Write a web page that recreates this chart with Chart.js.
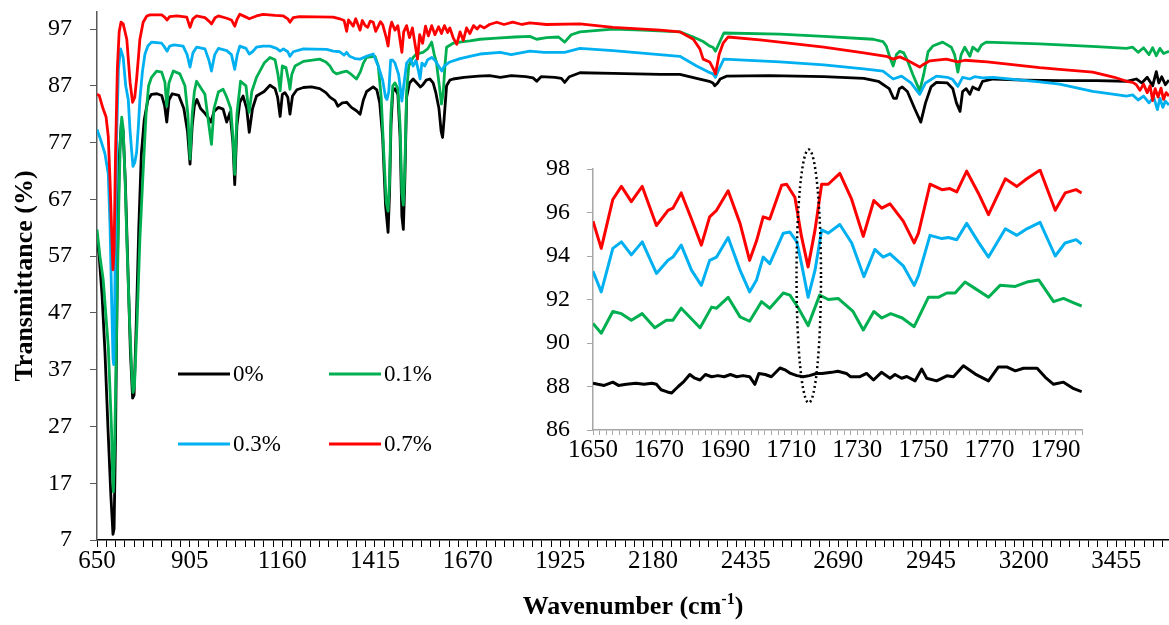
<!DOCTYPE html>
<html>
<head>
<meta charset="utf-8">
<script src="https://cdn.jsdelivr.net/npm/chart.js@4.4.1/dist/chart.umd.min.js"></script>
<style>
  body { margin: 0; background: #fff; }
  #wrap { position: relative; width: 1169px; height: 625px; }
  #mainChart { position: absolute; left: 0; top: 0; }
  #insetChart { position: absolute; left: 520px; top: 140px; }
</style>
</head>
<body>
<div id="wrap">
  <canvas id="mainChart" width="1169" height="625"></canvas>
  <canvas id="insetChart" width="580" height="330"></canvas>
</div>
<script>
// series names (legend)
const seriesNames = ['0%', '0.1%', '0.3%', '0.7%'];

// main spectrum, [wavenumber, transmittance]
const t0 = [[650,60.5],[656,57],[664,50],[672,40],[680,27],[688,15],[694,8],[697,9],[701,25],[706,55],[711,74],[717,80.5],[722,79],[728,70],[735,55],[742,40],[748,32],[752,32.5],[758,45],[765,62],[772,75],[780,81],[790,84.5],[800,85.5],[815,85.6],[828,85.3],[836,83.5],[842,80.6],[848,84.5],[857,85.6],[875,85.3],[889,83],[899,79],[906,73.2],[912,80],[918,83.5],[925,84.6],[935,83],[945,82.3],[955,81.5],[964,80.6],[972,82.5],[984,83.2],[997,82.9],[1007,80.6],[1016,82.3],[1024,77],[1029,69.6],[1035,80],[1043,84.1],[1052,85.2],[1062,83],[1069,78.8],[1078,83],[1089,85.2],[1110,86],[1126,87.1],[1140,86.5],[1147,85],[1154,81.6],[1160,85.5],[1167,85.8],[1175,85],[1181,82],[1188,85.2],[1200,86.3],[1218,86.7],[1240,86.8],[1263,86.5],[1280,85.8],[1291,85],[1305,84.4],[1313,83.4],[1325,84],[1337,84.1],[1350,83.2],[1364,82.6],[1374,82],[1383,84.5],[1392,86],[1410,86.8],[1420,86.3],[1428,84],[1436,78],[1444,66],[1451,61.2],[1455,68],[1459,80],[1464,86],[1470,86.5],[1478,85.5],[1484,78],[1489,64],[1493,61.7],[1497,70],[1502,85],[1510,87.5],[1520,88.2],[1530,87.5],[1540,86.8],[1547,87.2],[1556,88],[1566,88.2],[1575,87.5],[1582,85.9],[1591,83],[1597,79],[1601,77.9],[1605,81],[1612,87],[1621,88],[1630,88.2],[1660,88.5],[1700,88.7],[1730,88.8],[1760,88.5],[1790,88.8],[1830,88.6],[1850,88.4],[1860,87.8],[1872,88.6],[1910,88.5],[1928,88.3],[1937,87.6],[1950,88.6],[1979,89.3],[2070,89.2],[2200,89.0],[2254,89.0],[2300,88.3],[2335,87.8],[2345,87.5],[2350,87.0],[2358,87.5],[2365,88.2],[2382,88.7],[2500,88.8],[2650,88.6],[2760,88.3],[2800,87.8],[2830,86.5],[2842,84.8],[2850,84.8],[2858,86.5],[2866,86.8],[2880,86],[2900,83],[2917,80.6],[2930,84],[2945,86.8],[2960,87.6],[2990,87.5],[3005,86.5],[3015,84],[3025,82.5],[3032,86],[3042,86.5],[3052,85.5],[3060,86.8],[3068,86.5],[3076,86.3],[3087,87.8],[3116,88.2],[3200,88.0],[3300,87.9],[3400,87.9],[3483,87.8],[3510,88.2],[3525,87.5],[3540,88.5],[3555,87],[3565,89.5],[3572,87.5],[3580,88.6],[3590,87.2],[3600,88]];

const t01 = [[650,61.7],[658,57],[667,52.9],[674,47],[681,41.1],[686,33],[690,26.4],[693,18],[695,15.5],[698,22],[702,36],[706,52],[710,66],[714,77],[718,81.5],[722,79.5],[727,71],[733,58],[740,45],[746,36],[749,33],[753,34],[760,45],[768,60],[777,72],[785,82],[792,87],[800,88.5],[814,89.6],[828,89.4],[837,87.6],[842,83.4],[848,87.5],[860,89.6],[878,89.1],[892,87],[900,82],[906,74.1],[912,82],[918,86],[924,87.8],[938,86.4],[947,85.5],[958,80],[965,76.7],[972,83],[984,85.9],[997,86.4],[1007,85],[1018,83],[1024,78],[1029,71.4],[1035,82],[1045,87.8],[1060,87],[1065,84],[1069,82.3],[1076,86],[1089,88.5],[1110,91],[1126,92.0],[1140,91.6],[1148,89],[1154,86.1],[1160,90.5],[1170,90.2],[1177,88],[1181,86.4],[1186,89],[1195,90.5],[1218,91.3],[1263,91.7],[1280,91.2],[1291,90.5],[1300,89.5],[1309,89.1],[1325,89.4],[1337,89.6],[1350,89],[1364,88.2],[1375,89.5],[1383,91],[1392,92],[1415,92.2],[1424,90.5],[1432,85],[1440,74],[1446,66.5],[1451,64.9],[1455,70],[1459,82],[1464,87],[1470,87.5],[1478,86.5],[1484,80],[1489,68],[1493,66],[1497,72],[1502,86],[1508,90.5],[1520,92],[1529,92.6],[1547,92.9],[1560,93.5],[1571,94.7],[1578,92.5],[1584,91.2],[1592,87],[1598,83.8],[1603,86],[1608,91],[1612,93.8],[1630,94.5],[1658,94.8],[1676,94.9],[1704,95.2],[1750,95.4],[1800,95.6],[1841,95.7],[1860,95.2],[1887,95.5],[1920,95.6],[1937,94.7],[1955,96],[1979,96.5],[2070,97.0],[2150,96.8],[2254,96.5],[2291,95.6],[2318,94.8],[2336,94],[2345,93.8],[2352,93.1],[2362,94.5],[2375,96.3],[2529,96.1],[2650,95.7],[2786,95.2],[2813,94.8],[2822,94],[2832,92],[2841,90.5],[2850,92.5],[2859,93.1],[2870,92.8],[2880,91.5],[2895,89],[2914,86.1],[2925,89],[2937,93],[2950,94],[2977,94.7],[3001,93.8],[3010,92.5],[3019,89.4],[3028,92.5],[3038,93.8],[3052,92.2],[3060,93.8],[3074,93.1],[3084,94.2],[3097,94.7],[3244,94.4],[3400,93.9],[3483,93.6],[3500,93.8],[3515,92.9],[3530,93.7],[3545,92.5],[3555,93.7],[3565,92.3],[3575,93.6],[3585,92.7],[3600,93.1]];

const t03 = [[650,79.3],[660,77.5],[672,75],[681,71.5],[686,62],[690,50],[694,39],[696,37.9],[699,50],[704,78],[709,90],[715,93.5],[722,92],[729,87],[736,84.6],[741,79],[745,75.8],[749,72.8],[754,73.5],[759,75.3],[764,80],[768,84.6],[775,89.5],[782,92.6],[790,94],[800,94.7],[828,94.5],[836,93.8],[843,93.1],[850,94],[862,94.2],[887,94],[898,92.5],[906,90.3],[914,92.8],[924,93.8],[947,93.5],[958,91.5],[965,89.6],[974,92.5],[984,93.6],[1007,93.2],[1020,92.5],[1029,89.9],[1036,92.5],[1043,94],[1060,93.6],[1069,92.6],[1078,93],[1089,93.8],[1107,94],[1126,94],[1144,93.6],[1154,93.1],[1163,93.5],[1175,93],[1181,92.2],[1190,93],[1218,93.5],[1282,93.4],[1300,93.1],[1318,93.0],[1330,92.4],[1337,92.9],[1345,92.2],[1360,91.8],[1374,91.7],[1395,92.3],[1410,92.6],[1424,90.5],[1436,88],[1444,85],[1448,84.6],[1453,86],[1458,91.5],[1464,91.5],[1470,91],[1480,89],[1489,84.3],[1494,87],[1502,91],[1512,91.8],[1520,90.5],[1528,91.5],[1535,89.5],[1539,88.2],[1544,91],[1552,90.5],[1560,91.6],[1571,92],[1580,91.5],[1590,90.5],[1599,89.6],[1606,90.5],[1621,91.2],[1649,91.8],[1676,92.2],[1704,92.6],[1760,92.9],[1790,92.5],[1841,93.1],[1880,92.9],[1937,92.9],[1979,93.6],[2070,93.2],[2254,92.2],[2300,90.5],[2330,89.5],[2345,89.1],[2352,88.5],[2362,90],[2375,91.7],[2529,91.2],[2650,90.7],[2760,90],[2813,89.6],[2841,88.2],[2864,88.7],[2890,87.5],[2914,85.5],[2930,87.5],[2960,88.7],[2990,88.5],[3005,88.1],[3019,86.9],[3032,88.5],[3052,88.2],[3065,88.6],[3087,88.4],[3116,88.5],[3244,87.7],[3299,87.3],[3390,86],[3450,85.5],[3483,85.2],[3500,85.4],[3515,84.5],[3530,85.2],[3545,84],[3558,85],[3568,82.8],[3575,84.8],[3583,83.2],[3590,84.3],[3600,83.6]];

const t07 = [[650,85.5],[656,85.3],[667,82.9],[675,81.5],[681,78.1],[686,70],[690,62],[694,54.6],[697,58],[701,75],[706,90],[711,96.5],[716,98.2],[722,97.9],[732,95.2],[737,91],[741,87.6],[748,84.1],[754,85],[759,88.2],[764,92],[768,95.2],[777,98.2],[787,99.3],[796,99.5],[828,99.5],[836,99.1],[843,98.6],[850,99.2],[870,99.3],[897,99.1],[906,97.3],[914,98.8],[924,99.3],[947,99],[958,98.4],[965,97.9],[975,99],[984,99.3],[1007,98.9],[1020,98.6],[1029,97.5],[1036,98.8],[1043,99.6],[1060,99.1],[1069,98.8],[1089,99.3],[1107,99.6],[1140,99.4],[1163,99.3],[1175,98.8],[1181,98.2],[1190,99],[1208,99.2],[1300,99.1],[1318,98.8],[1330,98.5],[1337,96.6],[1342,98.6],[1355,97.5],[1362,98.8],[1368,97.8],[1374,96.8],[1380,98.5],[1388,97.6],[1395,97.3],[1402,98.4],[1410,98.2],[1417,96.6],[1424,97.5],[1430,98.3],[1436,97.8],[1446,95.5],[1451,94.0],[1456,97],[1461,98.2],[1470,96.8],[1478,97.6],[1484,95],[1489,92.9],[1494,96.5],[1502,97.6],[1510,95.5],[1518,97.2],[1526,94],[1532,91.7],[1538,96],[1546,94.5],[1554,97.5],[1562,95.8],[1571,97.6],[1580,96],[1590,97.4],[1598,96.2],[1606,97.6],[1615,96.4],[1621,97.2],[1630,95.5],[1640,94.3],[1649,96.5],[1658,95],[1667,97.2],[1676,96.2],[1686,97.6],[1696,97],[1704,97.6],[1716,97.2],[1730,97.8],[1750,98.2],[1770,97.8],[1794,98.2],[1820,97.8],[1841,98.1],[1887,97.8],[1979,97.9],[2070,97.3],[2200,96.8],[2254,96.5],[2291,95.2],[2309,93.5],[2318,91.7],[2336,91.2],[2346,90],[2352,89.1],[2362,92.5],[2373,94.5],[2387,95.6],[2474,95.1],[2529,94.7],[2650,93.8],[2760,92.8],[2822,92.2],[2841,91.7],[2859,92.1],[2880,91.5],[2900,90.8],[2914,90.3],[2925,90.8],[2942,91.4],[2987,91.7],[3019,91.2],[3038,91.5],[3100,91.2],[3244,90.2],[3299,89.9],[3390,89.4],[3450,88.5],[3483,87.8],[3500,87.6],[3510,87.2],[3520,86.2],[3530,87.3],[3540,85.8],[3548,87],[3555,84.4],[3562,86.5],[3570,85],[3578,86.6],[3585,84.6],[3592,85.8],[3600,85.2]];

// inset 1650-1798 cm-1
const in0 = [[1650.0,88.15],[1651.5,88.1],[1653.4,88.05],[1656.0,88.2],[1657.7,88.05],[1660.1,88.1],[1663.0,88.15],[1665.4,88.1],[1667.8,88.15],[1669.2,88.1],[1670.6,87.85],[1672.5,87.75],[1673.8,87.7],[1675.8,88.0],[1677.3,88.2],[1679.3,88.55],[1680.6,88.4],[1682.4,88.3],[1684.0,88.55],[1685.9,88.45],[1687.8,88.5],[1689.7,88.45],[1691.6,88.55],[1693.5,88.45],[1695.4,88.5],[1697.4,88.45],[1699.0,88.1],[1700.2,88.6],[1702.1,88.55],[1704.0,88.45],[1706.6,88.85],[1708.3,88.75],[1709.8,88.6],[1711.7,88.5],[1713.6,88.45],[1715.5,88.5],[1717.6,88.6],[1719.3,88.6],[1722.2,88.65],[1724.1,88.7],[1726.7,88.6],[1727.9,88.45],[1730.8,88.45],[1732.8,88.6],[1734.9,88.3],[1737.3,88.65],[1739.9,88.38],[1741.4,88.55],[1743.4,88.38],[1745.0,88.46],[1747.5,88.26],[1749.5,88.8],[1751.0,88.38],[1754.0,88.26],[1757.1,88.49],[1759.1,88.45],[1762.1,88.95],[1765.7,88.57],[1769.7,88.26],[1772.7,88.9],[1775.2,88.9],[1777.8,88.72],[1780.3,88.84],[1784.4,88.84],[1786.9,88.42],[1789.4,88.1],[1792.4,88.2],[1795.5,87.9],[1797.9,87.76]];

const in01 = [[1650.0,90.9],[1652.5,90.45],[1656.0,91.45],[1658.6,91.35],[1661.6,91.05],[1664.9,91.35],[1668.7,90.7],[1672.2,91.05],[1674.2,91.05],[1676.7,91.6],[1682.4,90.7],[1685.9,91.65],[1687.4,91.6],[1690.9,92.1],[1694.5,91.2],[1697.4,91.0],[1701.0,91.9],[1703.5,91.6],[1707.6,92.3],[1709.6,92.2],[1712.0,91.65],[1715.1,90.8],[1718.6,92.2],[1721.2,92.0],[1724.2,92.05],[1728.7,91.45],[1731.8,90.6],[1735.0,91.45],[1737.4,91.15],[1740.1,91.35],[1743.6,91.15],[1747.2,90.75],[1751.5,92.1],[1754.5,92.1],[1757.1,92.3],[1759.6,92.3],[1762.6,92.8],[1765.7,92.5],[1769.7,92.1],[1773.2,92.65],[1777.8,92.6],[1781.3,92.8],[1784.9,92.9],[1789.4,91.9],[1792.4,92.05],[1795.5,91.85],[1797.9,91.7]];

const in03 = [[1650.0,93.3],[1652.5,92.35],[1656.0,94.35],[1658.6,94.65],[1661.6,94.05],[1664.9,94.65],[1669.2,93.2],[1672.7,93.8],[1674.2,93.95],[1676.7,94.5],[1679.8,93.35],[1682.8,92.65],[1685.3,93.8],[1687.4,93.95],[1690.9,94.85],[1694.5,93.35],[1697.4,92.35],[1699.5,92.9],[1701.5,93.95],[1703.5,93.65],[1707.6,95.05],[1709.6,95.1],[1711.7,94.65],[1713.1,93.65],[1715.1,92.1],[1717.2,93.35],[1719.2,95.2],[1721.2,95.05],[1724.7,95.45],[1728.3,94.6],[1732.0,93.05],[1735.3,94.3],[1737.8,93.95],[1739.9,94.1],[1743.9,93.55],[1747.2,92.65],[1748.5,93.1],[1752.0,94.95],[1755.6,94.8],[1757.6,94.85],[1760.1,94.75],[1763.1,95.5],[1766.6,94.65],[1769.7,93.95],[1774.8,95.25],[1778.3,94.95],[1781.3,95.25],[1785.3,95.55],[1789.9,94.0],[1792.9,94.6],[1796.2,94.75],[1797.9,94.55]];

const in07 = [[1650.0,95.6],[1652.5,94.35],[1656.0,96.6],[1658.6,97.2],[1661.6,96.5],[1664.9,97.2],[1669.2,95.4],[1672.7,96.1],[1674.2,96.2],[1676.7,96.9],[1679.8,95.7],[1682.8,94.5],[1685.3,95.8],[1687.4,96.1],[1690.9,97.0],[1694.5,95.5],[1697.4,93.8],[1699.5,94.7],[1701.5,95.8],[1703.5,95.7],[1707.1,97.25],[1708.6,97.3],[1711.1,96.7],[1713.1,94.9],[1715.1,93.5],[1717.2,95.2],[1719.2,97.3],[1721.2,97.3],[1724.7,97.8],[1728.3,96.6],[1731.8,94.9],[1735.0,96.55],[1737.4,96.2],[1739.9,96.4],[1743.9,95.6],[1747.2,94.6],[1748.5,95.05],[1752.0,97.3],[1755.6,97.05],[1758.0,97.1],[1760.1,96.95],[1763.1,97.9],[1766.6,96.9],[1769.7,95.9],[1774.8,97.55],[1778.3,97.2],[1781.3,97.55],[1785.3,97.95],[1789.9,96.1],[1792.9,96.9],[1796.2,97.05],[1797.9,96.9]];

// tick labels
const xTickLabels = [650, 905, 1160, 1415, 1670, 1925, 2180, 2435, 2690, 2945, 3200, 3455];
const yTickLabels = [7, 17, 27, 37, 47, 57, 67, 77, 87, 97];
const insetXLabels = [1650, 1670, 1690, 1710, 1730, 1750, 1770, 1790];
const insetYLabels = [86, 88, 90, 92, 94, 96, 98];

// dotted ellipse around the ~1715 band in the inset
const ellipseMark = { center: 1715.3, halfWidth: 3.7, top: 98.9, bottom: 87.25 };

const colors = ['#000000', '#00b050', '#00b0f0', '#ff0000'];
const serif = '"Liberation Serif", "Times New Roman", serif';
Chart.defaults.font.family = serif;
Chart.defaults.color = '#000';

function makeSets(list, width) {
  return list.map((d, i) => ({
    label: seriesNames[i],
    data: d,
    borderColor: colors[i],
    backgroundColor: colors[i],
    borderWidth: width,
    pointRadius: 0,
    tension: 0,
    borderJoinStyle: 'round',
    order: 4 - i
  }));
}

// keep the plot area where it is in the figure, no extra room for edge labels
const noEdgePad = (scale) => {
  scale.paddingTop = 0; scale.paddingBottom = 0;
  scale.paddingLeft = 0; scale.paddingRight = 0;
};

const legendPlugin = {
  id: 'boxLegend',
  afterDraw(chart) {
    const ctx = chart.ctx;
    const cols = [178, 329], rows = [374, 444];
    ctx.save();
    ctx.font = '23px ' + serif;
    ctx.textBaseline = 'middle';
    seriesNames.forEach((name, i) => {
      const x = cols[i % 2], y = rows[Math.floor(i / 2)];
      ctx.strokeStyle = colors[i];
      ctx.lineWidth = 3;
      ctx.beginPath();
      ctx.moveTo(x, y);
      ctx.lineTo(x + 52, y);
      ctx.stroke();
      ctx.fillStyle = '#000';
      ctx.fillText(name, x + 55, y + 1);
    });
    ctx.restore();
  }
};

const xTitlePlugin = {
  id: 'xTitle',
  afterDraw(chart) {
    const ctx = chart.ctx;
    const a = chart.chartArea;
    const main = 'Wavenumber (cm', sup = '-1', tail = ')';
    ctx.save();
    ctx.fillStyle = '#000';
    ctx.textBaseline = 'alphabetic';
    ctx.font = 'bold 26px ' + serif;
    const w1 = ctx.measureText(main).width, w3 = ctx.measureText(tail).width;
    ctx.font = 'bold 16px ' + serif;
    const w2 = ctx.measureText(sup).width;
    let x = (a.left + a.right) / 2 - (w1 + w2 + w3) / 2;
    const y = 614;
    ctx.font = 'bold 26px ' + serif;
    ctx.fillText(main, x, y);
    x += w1;
    ctx.font = 'bold 16px ' + serif;
    ctx.fillText(sup, x, y - 10);
    x += w2;
    ctx.font = 'bold 26px ' + serif;
    ctx.fillText(tail, x, y);
    ctx.restore();
  }
};

new Chart(document.getElementById('mainChart'), {
  type: 'line',
  data: { datasets: makeSets([t0, t01, t03, t07], 2.8) },
  options: {
    responsive: false,
    animation: false,
    layout: { padding: { top: 12, right: 0, left: 0, bottom: 0 } },
    plugins: { legend: { display: false }, tooltip: { enabled: false } },
    scales: {
      x: {
        type: 'linear',
        min: 650,
        max: 3600,
        afterBuildTicks: (scale) => {
          const ticks = [];
          for (let v = 650; v <= 3600; v += 25.5) ticks.push({ value: v });
          scale.ticks = ticks;
        },
        afterFit: (scale) => { scale.height = 85; noEdgePad(scale); },
        ticks: {
          autoSkip: false,
          maxRotation: 0,
          minRotation: 0,
          padding: -1,
          font: { size: 25 },
          color: '#000',
          callback: (v) => xTickLabels.includes(v) ? String(v) : ''
        },
        grid: { drawOnChartArea: false, drawTicks: true, tickLength: 7, color: '#000', lineWidth: 1 },
        border: { color: '#000', width: 1.5 }
      },
      y: {
        type: 'linear',
        min: 7,
        max: 100,
        afterBuildTicks: (scale) => { scale.ticks = yTickLabels.map(v => ({ value: v })); },
        afterFit: (scale) => { scale.width = 97; noEdgePad(scale); },
        ticks: { font: { size: 24 }, color: '#000', padding: 18 },
        grid: { drawOnChartArea: false, drawTicks: true, tickLength: 7, color: '#595959', lineWidth: 1 },
        border: { color: '#595959', width: 1.5 },
        title: {
          display: true,
          text: 'Transmittance (%)',
          font: { size: 26, weight: 'bold' },
          color: '#000',
          padding: { top: 10, bottom: 0 }
        }
      }
    }
  },
  plugins: [legendPlugin, xTitlePlugin]
});

const ellipsePlugin = {
  id: 'ellipseMark',
  afterDatasetsDraw(chart) {
    const { ctx, scales } = chart;
    const cx = scales.x.getPixelForValue(ellipseMark.center);
    const rx = Math.abs(scales.x.getPixelForValue(ellipseMark.center + ellipseMark.halfWidth) - cx);
    const top = scales.y.getPixelForValue(ellipseMark.top);
    const bottom = scales.y.getPixelForValue(ellipseMark.bottom);
    ctx.save();
    ctx.strokeStyle = '#000';
    ctx.lineWidth = 2.5;
    ctx.setLineDash([2, 3]);
    ctx.beginPath();
    ctx.ellipse(cx, (top + bottom) / 2, rx, (bottom - top) / 2, 0, 0, Math.PI * 2);
    ctx.stroke();
    ctx.restore();
  }
};

new Chart(document.getElementById('insetChart'), {
  type: 'line',
  data: { datasets: makeSets([in0, in01, in03, in07], 3) },
  options: {
    responsive: false,
    animation: false,
    layout: { padding: { top: 29, right: 18, left: 0, bottom: 0 } },
    plugins: { legend: { display: false }, tooltip: { enabled: false } },
    elements: { line: { tension: 0.3 } },
    scales: {
      x: {
        type: 'linear',
        min: 1650,
        max: 1798,
        afterBuildTicks: (scale) => {
          const ticks = [];
          for (let v = 1650; v <= 1798; v += 2) ticks.push({ value: v });
          scale.ticks = ticks;
        },
        afterFit: (scale) => { scale.height = 40; noEdgePad(scale); },
        ticks: {
          autoSkip: false,
          maxRotation: 0,
          minRotation: 0,
          padding: 0,
          font: { size: 25 },
          color: '#000',
          callback: (v) => insetXLabels.includes(v) ? String(v) : ''
        },
        grid: { drawOnChartArea: false, drawTicks: true, tickLength: 5, color: '#a6a6a6', lineWidth: 1 },
        border: { color: '#a6a6a6', width: 1.5 }
      },
      y: {
        type: 'linear',
        min: 86,
        max: 98,
        afterBuildTicks: (scale) => { scale.ticks = insetYLabels.map(v => ({ value: v })); },
        afterFit: (scale) => { scale.width = 73; noEdgePad(scale); },
        ticks: { font: { size: 24 }, color: '#000', padding: 17 },
        grid: { drawOnChartArea: false, drawTicks: true, tickLength: 6, color: '#a6a6a6', lineWidth: 1 },
        border: { color: '#a6a6a6', width: 1.5 }
      }
    }
  },
  plugins: [ellipsePlugin]
});
</script>
</body>
</html>
